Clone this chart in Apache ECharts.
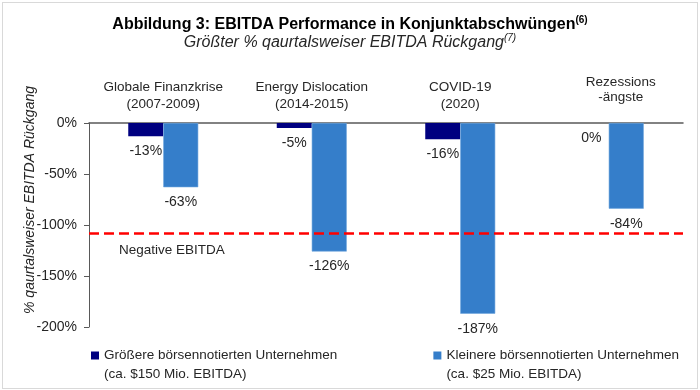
<!DOCTYPE html>
<html>
<head>
<meta charset="utf-8">
<script src="https://cdn.jsdelivr.net/npm/echarts@6/dist/echarts.min.js"></script>
<style>
html,body{margin:0;padding:0;background:#fff;}
#wrap{position:relative;width:700px;height:390px;}
#frame{position:absolute;left:2px;top:2px;width:694px;height:385px;border:1px solid #d9d9d9;pointer-events:none;}
#chart{position:absolute;left:0;top:0;width:700px;height:390px;}
</style>
</head>
<body>
<div id="wrap"><div id="chart"></div><div id="frame"></div></div>
<script>
var categories = ['Globale Finanzkrise\n(2007-2009)', 'Energy Dislocation\n(2014-2015)', 'COVID-19\n(2020)', 'Rezessions\n-ängste'];
var seriesNames = ['Größere börsennotierten Unternehmen\n(ca. $150 Mio. EBITDA)', 'Kleinere börsennotierten Unternehmen\n(ca. $25 Mio. EBITDA)'];
var largeValues = [-13, -5, -16, 0];
var smallValues = [-63, -126, -187, -84];
var negativeThreshold = -108;
var yTicks = {min: -200, max: 0, interval: 50};

var FONT = '"Liberation Sans", Arial, sans-serif';
var TXT = '#262626';

var chart = echarts.init(document.getElementById('chart'), null, {renderer: 'canvas'});

var catData = categories.map(function (c, i) {
  if (i === 3) {
    return {value: c, textStyle: {padding: [0, 0, 8, 24], lineHeight: 15}};
  }
  return c;
});

var option = {
  backgroundColor: '#fff',
  animation: false,
  title: {
    left: 'center',
    top: 10,
    itemGap: 0,
    text: '{t|Abbildung 3: EBITDA Performance in Konjunktabschwüngen}{s|(6)}',
    subtext: '{t|Größter % qaurtalsweiser EBITDA Rückgang}{s|(7)}',
    textStyle: {
      fontFamily: FONT,
      rich: {
        t: {fontSize: 16, fontWeight: 'bold', color: '#000', fontFamily: FONT, lineHeight: 20},
        s: {fontSize: 10, fontWeight: 'bold', color: '#000', fontFamily: FONT, verticalAlign: 'top', lineHeight: 20, padding: [0, 0, 6, 0]}
      }
    },
    subtextStyle: {
      fontFamily: FONT,
      rich: {
        t: {fontSize: 16, fontStyle: 'italic', color: '#262626', fontFamily: FONT, lineHeight: 20},
        s: {fontSize: 10, fontStyle: 'italic', color: '#262626', fontFamily: FONT, verticalAlign: 'top', lineHeight: 20, padding: [0, 0, 6, 0]}
      }
    }
  },
  legend: {
    left: 91,
    top: 327,
    padding: 0,
    itemGap: 96,
    itemWidth: 8,
    itemHeight: 8,
    icon: 'rect',
    itemStyle: {borderWidth: 0},
    data: seriesNames,
    formatter: function (name) { return ' \n' + name; },
    textStyle: {fontFamily: FONT, fontSize: 13.5, color: TXT, lineHeight: 19}
  },
  grid: {left: 89, right: 17, top: 123, bottom: 63, containLabel: false},
  xAxis: {
    type: 'category',
    position: 'top',
    data: catData,
    axisLine: {lineStyle: {color: '#595959', width: 1.5}},
    axisTick: {show: false},
    axisLabel: {fontFamily: FONT, fontSize: 13.5, color: TXT, lineHeight: 17, margin: 10, interval: 0},
    splitLine: {show: false}
  },
  yAxis: {
    type: 'value',
    min: yTicks.min,
    max: yTicks.max,
    interval: yTicks.interval,
    name: '% qaurtalsweiser EBITDA Rückgang',
    nameLocation: 'middle',
    nameGap: 52,
    nameRotate: 90,
    nameMoveOverlap: false,
    nameTextStyle: {fontFamily: FONT, fontSize: 14, fontStyle: 'italic', color: TXT, padding: [0, 0, 0, 50]},
    axisLine: {show: true, lineStyle: {color: '#595959', width: 1}},
    axisTick: {show: true, length: 5, inside: false, lineStyle: {color: '#595959'}},
    axisLabel: {fontFamily: FONT, fontSize: 14, color: TXT, margin: 12, formatter: '{value}%'},
    splitLine: {show: false}
  },
  series: [
    {
      name: seriesNames[0],
      type: 'bar',
      data: largeValues,
      barWidth: 35,
      barGap: '0%',
      itemStyle: {color: '#000080'},
      label: {show: true, position: 'bottom', distance: 8, formatter: '{c}%', fontFamily: FONT, fontSize: 14, color: TXT}
    },
    {
      name: seriesNames[1],
      type: 'bar',
      data: smallValues,
      barWidth: 35,
      barGap: '0%',
      itemStyle: {color: '#357ECA', borderColor: '#6FA6DE', borderWidth: 0.6},
      label: {show: true, position: 'bottom', distance: 8, formatter: '{c}%', fontFamily: FONT, fontSize: 14, color: TXT},
      markLine: {
        silent: true,
        symbol: ['none', 'none'],
        data: [{yAxis: negativeThreshold}],
        lineStyle: {color: '#FF0000', width: 2.5, type: [10, 5]},
        label: {
          show: true,
          position: 'insideStartBottom',
          formatter: 'Negative EBITDA',
          fontFamily: FONT, fontSize: 13.5, color: TXT,
          distance: 10,
          padding: [0, 0, 0, 20]
        }
      }
    }
  ]
};
chart.setOption(option);
</script>
</body>
</html>
